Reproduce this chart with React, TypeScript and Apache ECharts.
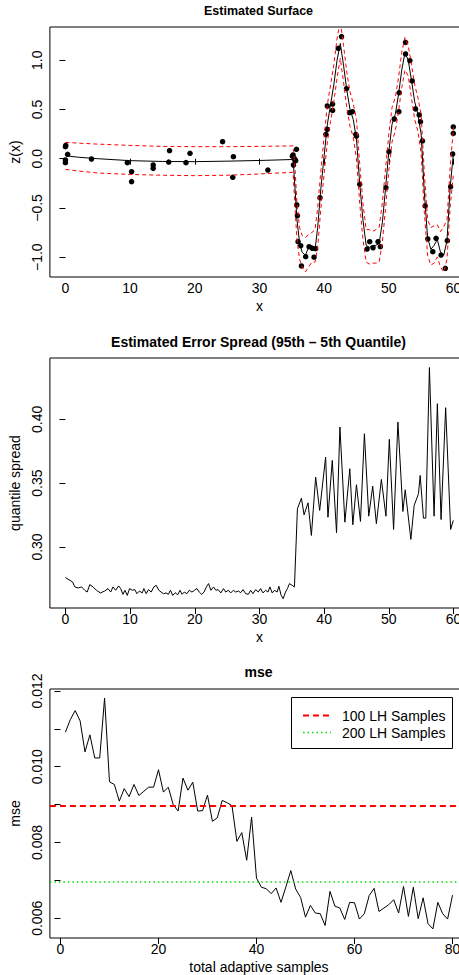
import React, { useEffect, useRef } from "react";
import * as echarts from "echarts";

const FONT = "'Liberation Sans', Arial, Helvetica, sans-serif";

// ---------- Panel 1: Estimated Surface ----------
const surfX = [0, 2, 5, 10, 15, 20, 25, 30, 35.2, 35.5, 35.8, 36.2, 36.6, 37.1, 37.6, 38.1, 38.6, 39.0, 39.5, 40.0, 40.5, 41.0, 41.5, 42.0, 42.5, 43.0, 43.5, 44.0, 44.5, 45.0, 45.5, 46.0, 46.5, 47.0, 47.5, 48.0, 48.5, 49.0, 49.5, 50.0, 50.5, 51.0, 51.5, 52.0, 52.5, 53.0, 53.5, 54.0, 54.5, 55.0, 55.5, 56.0, 56.5, 57.0, 57.5, 58.0, 58.5, 59.0, 59.5, 60.0];
const surfFit = [0.03, 0.015, 0.0, -0.02, -0.028, -0.03, -0.025, -0.018, -0.008, -0.3, -0.62, -0.85, -0.95, -0.98, -0.9, -0.88, -0.92, -0.7, -0.3, 0.03, 0.35, 0.55, 0.75, 1.0, 1.17, 0.95, 0.7, 0.5, 0.4, 0.2, -0.25, -0.62, -0.88, -0.9, -0.88, -0.88, -0.86, -0.65, -0.3, 0.07, 0.35, 0.45, 0.65, 0.9, 1.075, 1.0, 0.8, 0.58, 0.45, 0.25, -0.35, -0.8, -0.92, -0.88, -0.82, -0.95, -0.98, -0.83, -0.28, 0.06];
const surfUpper = [0.166, 0.158, 0.148, 0.135, 0.125, 0.122, 0.122, 0.125, 0.13, -0.1, -0.45, -0.7, -0.78, -0.8, -0.77, -0.75, -0.72, -0.5, -0.12, 0.22, 0.55, 0.75, 0.95, 1.22, 1.4, 1.15, 0.88, 0.68, 0.56, 0.4, -0.05, -0.45, -0.72, -0.72, -0.74, -0.72, -0.7, -0.45, -0.1, 0.25, 0.52, 0.62, 0.82, 1.08, 1.23, 1.15, 0.96, 0.75, 0.62, 0.45, -0.15, -0.62, -0.7, -0.68, -0.67, -0.74, -0.69, -0.62, -0.08, 0.32];
const surfLower = [-0.108, -0.125, -0.145, -0.16, -0.168, -0.172, -0.168, -0.155, -0.138, -0.5, -0.82, -1.02, -1.1, -1.15, -1.1, -1.05, -1.05, -0.9, -0.5, -0.15, 0.17, 0.38, 0.58, 0.82, 1.02, 0.78, 0.52, 0.33, 0.22, 0.0, -0.45, -0.82, -1.05, -1.07, -1.06, -1.06, -1.05, -0.85, -0.5, -0.12, 0.17, 0.28, 0.48, 0.72, 0.9, 0.84, 0.62, 0.4, 0.28, 0.05, -0.55, -0.98, -1.08, -1.06, -1.0, -1.1, -1.15, -1.02, -0.48, -0.15];

const obsX = [0, 0.05, 0.34, 0, 0, 4.03, 9.57, 10.23, 10.23, 13.57, 13.57, 15.97, 16.1, 18.64, 19.26, 24.3, 25.97, 25.87, 31.3, 35.2, 35.1, 35.26, 35.5, 35.6, 35.72, 35.4, 35.77, 35.87, 35.97, 36.38, 36.49, 37.15, 37.67, 38.18, 38.44, 38.69, 39.36, 40.28, 40.49, 40.49, 41.31, 41.31, 42.18, 42.69, 43.46, 43.92, 44.38, 44.9, 45.0, 45.5, 46.64, 47.05, 47.56, 48.33, 48.69, 49.56, 50.03, 50.84, 51.56, 51.61, 52.59, 52.59, 53.26, 53.62, 54.13, 54.7, 54.9, 55.21, 55.62, 56.03, 56.8, 57.31, 58.08, 58.74, 59.05, 59.56, 59.87, 59.97, 59.97];
const obsZ = [0.122, 0.135, 0.045, -0.013, -0.04, -0.003, -0.04, -0.132, -0.233, -0.064, -0.098, -0.034, 0.081, -0.04, 0.055, 0.173, 0.02, -0.189, -0.115, 0.038, 0.025, -0.064, -0.013, -0.02, 0.095, 0.0, -0.47, -0.579, -0.843, -0.883, -1.089, -0.995, -0.893, -0.91, -1.0, -0.913, -0.396, 0.247, 0.298, 0.535, 0.555, 0.49, 1.12, 1.239, 0.711, 0.467, 0.477, 0.248, 0.23, -0.26, -0.917, -0.843, -0.904, -0.843, -0.893, -0.294, 0.071, 0.403, 0.477, 0.67, 1.181, 1.063, 0.995, 0.789, 0.505, 0.444, 0.376, 0.18, -0.48, -0.815, -0.944, -0.808, -0.978, -1.113, -0.832, -0.284, 0.048, 0.257, 0.322];

// ---------- Panel 2: Estimated Error Spread ----------
const spreadX = [0.0, 1.1, 1.46, 1.97, 2.49, 3.0, 3.36, 3.77, 4.28, 4.79, 5.41, 6.08, 6.59, 7.0, 7.36, 7.77, 8.23, 8.54, 8.9, 9.21, 9.56, 9.92, 10.33, 10.74, 11.05, 11.46, 11.87, 12.13, 12.49, 12.85, 13.26, 13.67, 14.03, 14.44, 14.79, 15.15, 15.56, 15.92, 16.23, 16.59, 16.95, 17.36, 17.72, 18.03, 18.38, 18.79, 19.15, 19.56, 19.97, 20.33, 20.69, 21.05, 21.44, 21.79, 22.13, 22.49, 22.9, 23.26, 23.62, 24.03, 24.44, 24.79, 25.2, 25.56, 25.97, 26.33, 26.74, 27.1, 27.46, 27.87, 28.28, 28.64, 29.0, 29.41, 29.82, 30.18, 30.54, 30.95, 31.31, 31.62, 31.97, 32.33, 32.74, 33.0, 33.36, 33.67, 34.03, 34.33, 34.64, 35.05, 35.41, 35.87, 36.49, 36.9, 37.51, 38.03, 38.69, 39.31, 40.23, 40.59, 41.26, 41.92, 42.44, 43.21, 43.97, 44.44, 45.0, 45.62, 46.23, 46.9, 47.51, 48.08, 48.85, 49.56, 50.08, 50.74, 51.41, 52.18, 52.54, 53.41, 53.92, 54.59, 54.85, 55.36, 55.72, 56.28, 57.0, 57.51, 58.08, 58.79, 59.56, 59.97];
const spreadY = [0.276, 0.2726, 0.2687, 0.2679, 0.2687, 0.2661, 0.2647, 0.2705, 0.2687, 0.2661, 0.264, 0.2655, 0.2674, 0.2647, 0.2687, 0.2661, 0.2695, 0.2674, 0.2629, 0.2661, 0.2621, 0.2674, 0.2661, 0.2666, 0.2634, 0.2655, 0.264, 0.2674, 0.2634, 0.2666, 0.2647, 0.2687, 0.27, 0.2661, 0.2647, 0.2634, 0.264, 0.2629, 0.2661, 0.2621, 0.2642, 0.2626, 0.2661, 0.2629, 0.2647, 0.2634, 0.2661, 0.2647, 0.2661, 0.2674, 0.2647, 0.2629, 0.2647, 0.2687, 0.2713, 0.2661, 0.2687, 0.2661, 0.2666, 0.264, 0.2674, 0.2647, 0.2661, 0.264, 0.2661, 0.2647, 0.2655, 0.2642, 0.2666, 0.2634, 0.2629, 0.2661, 0.2634, 0.2666, 0.2647, 0.2674, 0.264, 0.2661, 0.2647, 0.2687, 0.264, 0.2661, 0.2647, 0.2692, 0.2621, 0.2595, 0.2647, 0.2674, 0.2713, 0.27, 0.2687, 0.3299, 0.3382, 0.3252, 0.3346, 0.309, 0.3547, 0.3286, 0.3704, 0.3233, 0.3678, 0.3111, 0.3939, 0.3194, 0.3613, 0.3174, 0.3487, 0.32, 0.3887, 0.3241, 0.3477, 0.3182, 0.3529, 0.3241, 0.3843, 0.3137, 0.3978, 0.3278, 0.3448, 0.3059, 0.3325, 0.3417, 0.356, 0.3226, 0.3226, 0.4405, 0.3241, 0.4122, 0.3215, 0.4091, 0.3137, 0.3208];

// ---------- Panel 3: mse ----------
const mseSamples = Array.from({ length: 80 }, (_, i) => i + 1);
const mseValues = [0.01091, 0.01124, 0.01148, 0.01121, 0.01039, 0.01084, 0.01023, 0.01023, 0.01181, 0.0096, 0.00953, 0.00909, 0.00942, 0.00921, 0.00953, 0.00924, 0.00935, 0.00946, 0.00946, 0.00992, 0.00933, 0.00946, 0.009, 0.00883, 0.0097, 0.00938, 0.00959, 0.00883, 0.00884, 0.00925, 0.00856, 0.00865, 0.00911, 0.00905, 0.00897, 0.00803, 0.00826, 0.00753, 0.00867, 0.00706, 0.00682, 0.00678, 0.00665, 0.0068, 0.00642, 0.00683, 0.00726, 0.00677, 0.00655, 0.00603, 0.00634, 0.00614, 0.00612, 0.00581, 0.00671, 0.00632, 0.00627, 0.00597, 0.00642, 0.00641, 0.00598, 0.00612, 0.0066, 0.00679, 0.00618, 0.00627, 0.00636, 0.00649, 0.00614, 0.00684, 0.00605, 0.00682, 0.00599, 0.00654, 0.00586, 0.00572, 0.00642, 0.00612, 0.00598, 0.00661];
const lh100 = 0.00897;
const lh200 = 0.00697;
const legendLabels = ["100 LH Samples", "200 LH Samples"];

// tick values
const xTicks12 = [0, 10, 20, 30, 40, 50, 60];
const zTicks = [-1, -0.5, 0, 0.5, 1];
const spreadTicks = [0.3, 0.35, 0.4];
const mseXTicks = [0, 20, 40, 60, 80];
const mseYTicks = [0.006, 0.007, 0.008, 0.009, 0.01, 0.011, 0.012];
const mseYLabels = [0.006, 0.008, 0.01, 0.012];

const titles = ["Estimated Surface", "Estimated Error Spread (95th \u2013 5th Quantile)", "mse"];

const zip = (a: number[], b: number[]) => a.map((v, i) => [v, b[i]]);
const fmtMinus = (v: number, d: number) => (v < 0 ? "\u2212" : "") + Math.abs(v).toFixed(d);

const txt = { fontSize: 14, color: "#000", fontFamily: FONT };

function xAxisDef(grid: number, min: number, max: number, ticks: number[], name: string) {
  return {
    type: "value", gridIndex: grid, min, max,
    axisLine: { show: false },
    axisTick: { show: true, length: 6, lineStyle: { color: "#000", width: 1 }, customValues: ticks },
    axisLabel: { ...txt, margin: 4, customValues: ticks, formatter: (v: number) => String(v) },
    splitLine: { show: false },
    name, nameLocation: "middle", nameGap: 22, nameTextStyle: { ...txt },
  };
}

function yAxisDef(grid: number, min: number, max: number, ticks: number[], labels: number[], fmt: (v: number) => string, name: string) {
  return {
    type: "value", gridIndex: grid, min, max,
    axisLine: { show: false },
    axisTick: { show: true, length: 6, lineStyle: { color: "#000", width: 1 }, customValues: ticks },
    axisLabel: { ...txt, margin: 6, rotate: 90, customValues: labels, formatter: fmt },
    splitLine: { show: false },
    name, nameLocation: "middle", nameGap: 24, nameRotate: 90, nameTextStyle: { ...txt },
  };
}

export default function App() {
  const ref = useRef<HTMLDivElement>(null);
  useEffect(() => {
    if (!ref.current) return;
    const chart = echarts.init(ref.current, undefined, { renderer: "svg" });
    const gridStyle = { show: true, borderColor: "#000", borderWidth: 1, backgroundColor: "transparent" };
    const option: any = {
      animation: false,
      backgroundColor: "#fff",
      grid: [
        { left: 48, top: 27, width: 421, height: 250, ...gridStyle },
        { left: 48, top: 358, width: 421, height: 250, ...gridStyle },
        { left: 48, top: 689, width: 420, height: 249, ...gridStyle },
      ],
      xAxis: [
        xAxisDef(0, -2.4, 62.4, xTicks12, "x"),
        xAxisDef(1, -2.4, 62.4, xTicks12, "x"),
        xAxisDef(2, -2.16, 83.16, mseXTicks, "total adaptive samples"),
      ],
      yAxis: [
        yAxisDef(0, -1.201, 1.337, zTicks, zTicks, (v) => fmtMinus(v, 1), "z(x)"),
        yAxisDef(1, 0.2522, 0.448, spreadTicks, spreadTicks, (v) => v.toFixed(2), "quantile spread"),
        yAxisDef(2, 0.00548, 0.01205, mseYTicks, mseYLabels, (v) => v.toFixed(3), "mse"),
      ],
      series: [
        {
          type: "line", xAxisIndex: 0, yAxisIndex: 0, data: zip(surfX, surfUpper), showSymbol: false,
          lineStyle: { color: "#FF0000", width: 1, type: [4, 3] }, clip: true,
        },
        {
          type: "line", xAxisIndex: 0, yAxisIndex: 0, data: zip(surfX, surfLower), showSymbol: false,
          lineStyle: { color: "#FF0000", width: 1, type: [4, 3] }, clip: true,
        },
        {
          type: "line", xAxisIndex: 0, yAxisIndex: 0, data: zip(surfX, surfFit), showSymbol: false,
          lineStyle: { color: "#000", width: 1 }, clip: true,
        },
        {
          type: "scatter", xAxisIndex: 0, yAxisIndex: 0, data: zip(obsX, obsZ), symbol: "circle", symbolSize: 5.5,
          itemStyle: { color: "#000", opacity: 1 },
        },
        {
          type: "line", xAxisIndex: 1, yAxisIndex: 1, data: zip(spreadX, spreadY), showSymbol: false,
          lineStyle: { color: "#000", width: 1 },
        },
        {
          type: "line", xAxisIndex: 2, yAxisIndex: 2, data: zip(mseSamples, mseValues), showSymbol: false,
          lineStyle: { color: "#000", width: 1 },
          markLine: {
            silent: true, symbol: ["none", "none"], label: { show: false }, precision: 8,
            data: [
              { yAxis: lh100, lineStyle: { color: "#FF0000", width: 1.8, type: [6, 4] } },
              { yAxis: lh200, lineStyle: { color: "#00DD00", width: 1.5, type: [1.5, 3] } },
            ],
          },
        },
      ],
      graphic: [
        { type: "text", x: 258.5, y: 11, style: { text: titles[0], font: `bold 12.5px ${FONT}`, fill: "#000", align: "center", verticalAlign: "middle" } },
        { type: "text", x: 258.5, y: 342, style: { text: titles[1], font: `bold 14px ${FONT}`, fill: "#000", align: "center", verticalAlign: "middle" } },
        { type: "text", x: 258.5, y: 672, style: { text: titles[2], font: `bold 14px ${FONT}`, fill: "#000", align: "center", verticalAlign: "middle" } },
        { type: "rect", shape: { x: 291.5, y: 697.5, width: 161, height: 51 }, style: { fill: "#fff", stroke: "#000", lineWidth: 1 }, z: 10 },
        { type: "line", shape: { x1: 303, y1: 715.5, x2: 331, y2: 715.5 }, style: { stroke: "#FF0000", lineWidth: 1.8, lineDash: [6, 4] }, z: 11 },
        { type: "line", shape: { x1: 303, y1: 732.5, x2: 331, y2: 732.5 }, style: { stroke: "#00DD00", lineWidth: 1.5, lineDash: [1.5, 3] }, z: 11 },
        { type: "text", x: 342, y: 716, style: { text: legendLabels[0], font: `14px ${FONT}`, fill: "#000", align: "left", verticalAlign: "middle" }, z: 11 },
        { type: "text", x: 342, y: 733, style: { text: legendLabels[1], font: `14px ${FONT}`, fill: "#000", align: "left", verticalAlign: "middle" }, z: 11 },
      ],
    };
    chart.setOption(option);
    return () => chart.dispose();
  }, []);
  return (
    <div style={{ position: "absolute", left: 0, top: 0, width: 459, height: 975, overflow: "hidden", background: "#fff" }}>
      <div ref={ref} style={{ width: 480, height: 975 }} />
    </div>
  );
}
